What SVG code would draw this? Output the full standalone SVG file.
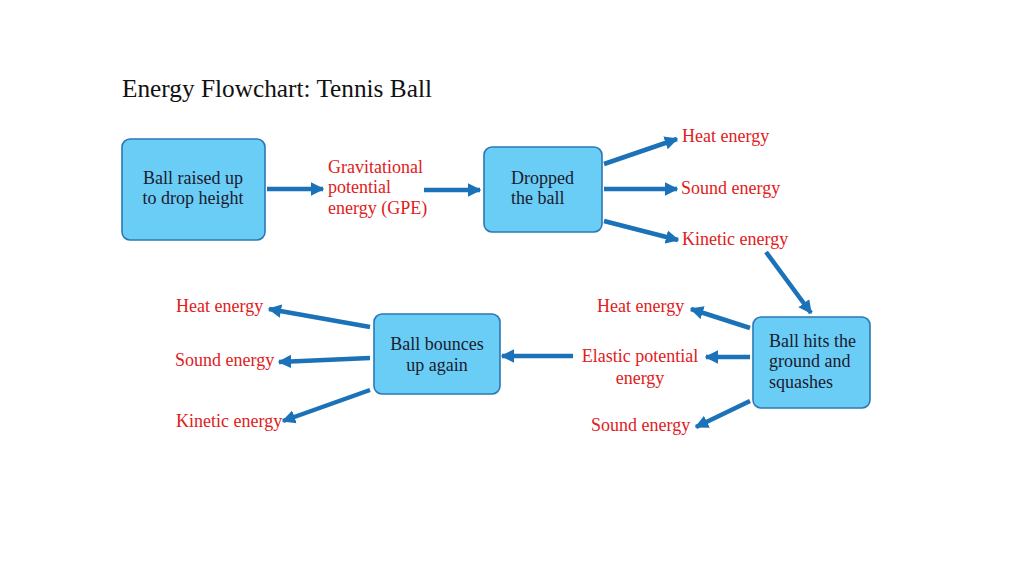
<svg xmlns="http://www.w3.org/2000/svg" width="1024" height="576" viewBox="0 0 1024 576">
<defs>
<marker id="ah" viewBox="0 0 10 10" refX="9" refY="5" markerWidth="3" markerHeight="3.2" orient="auto" markerUnits="strokeWidth">
<path d="M0,0 L10,5 L0,10 Z" fill="#1b72b8"/>
</marker>
</defs>
<style>
.box{fill:#6acdf5;stroke:#2b78b5;stroke-width:1.6}
.bt{font-family:"Liberation Serif","Times New Roman",serif;font-size:18px;fill:#1a1a2e}
.lt{font-family:"Liberation Serif","Times New Roman",serif;font-size:18px;fill:#e0201c}
.ar{stroke:#1b72b8;stroke-width:4.5;fill:none;marker-end:url(#ah)}
.title{font-family:"Liberation Serif","Times New Roman",serif;font-size:25.3px;fill:#111}
</style>
<rect width="1024" height="576" fill="#fff"/>
<text class="title" x="122" y="97">Energy Flowchart: Tennis Ball</text>
<g id="connectors">
<line class="ar" x1="267" y1="189" x2="323" y2="189"/>
<line class="ar" x1="424" y1="190" x2="480" y2="190"/>
<line class="ar" x1="604" y1="164" x2="677" y2="139"/>
<line class="ar" x1="604" y1="189" x2="677" y2="189"/>
<line class="ar" x1="604" y1="221" x2="678" y2="240"/>
<line class="ar" x1="766" y1="252" x2="811" y2="313"/>
<line class="ar" x1="750" y1="328" x2="691" y2="309"/>
<line class="ar" x1="750" y1="357" x2="706" y2="357"/>
<line class="ar" x1="750" y1="401" x2="696" y2="427"/>
<line class="ar" x1="573" y1="356" x2="502" y2="356"/>
<line class="ar" x1="370" y1="327" x2="269" y2="309"/>
<line class="ar" x1="370" y1="358" x2="279" y2="362"/>
<line class="ar" x1="370" y1="390" x2="283" y2="421"/>
</g>
<g id="n-raised">
<rect class="box" x="122" y="139" width="143" height="101" rx="8"/>
<text class="bt" x="193" y="184" text-anchor="middle">Ball raised up</text>
<text class="bt" x="193" y="204" text-anchor="middle">to drop height</text>
</g>
<g id="l-gpe">
<text class="lt" x="328" y="173">Gravitational</text>
<text class="lt" x="328" y="193">potential</text>
<text class="lt" x="328" y="214">energy (GPE)</text>
</g>
<g id="n-dropped">
<rect class="box" x="484" y="147" width="118" height="85" rx="8"/>
<text class="bt" x="511" y="184">Dropped</text>
<text class="bt" x="511" y="204">the ball</text>
</g>
<g id="l-top">
<text class="lt" x="682" y="142">Heat energy</text>
<text class="lt" x="681" y="194">Sound energy</text>
<text class="lt" x="682" y="245">Kinetic energy</text>
</g>
<g id="n-hits">
<rect class="box" x="753" y="317" width="117" height="91" rx="8"/>
<text class="bt" x="769" y="347">Ball hits the</text>
<text class="bt" x="769" y="367">ground and</text>
<text class="bt" x="769" y="388">squashes</text>
</g>
<g id="l-mid">
<text class="lt" x="597" y="312">Heat energy</text>
<text class="lt" x="640" y="362" text-anchor="middle">Elastic potential</text>
<text class="lt" x="640" y="384" text-anchor="middle">energy</text>
<text class="lt" x="591" y="431">Sound energy</text>
</g>
<g id="n-bounces">
<rect class="box" x="374" y="314" width="126" height="80" rx="8"/>
<text class="bt" x="437" y="350" text-anchor="middle">Ball bounces</text>
<text class="bt" x="437" y="371" text-anchor="middle">up again</text>
</g>
<g id="l-left">
<text class="lt" x="176" y="312">Heat energy</text>
<text class="lt" x="175" y="366">Sound energy</text>
<text class="lt" x="176" y="427">Kinetic energy</text>
</g>
</svg>
